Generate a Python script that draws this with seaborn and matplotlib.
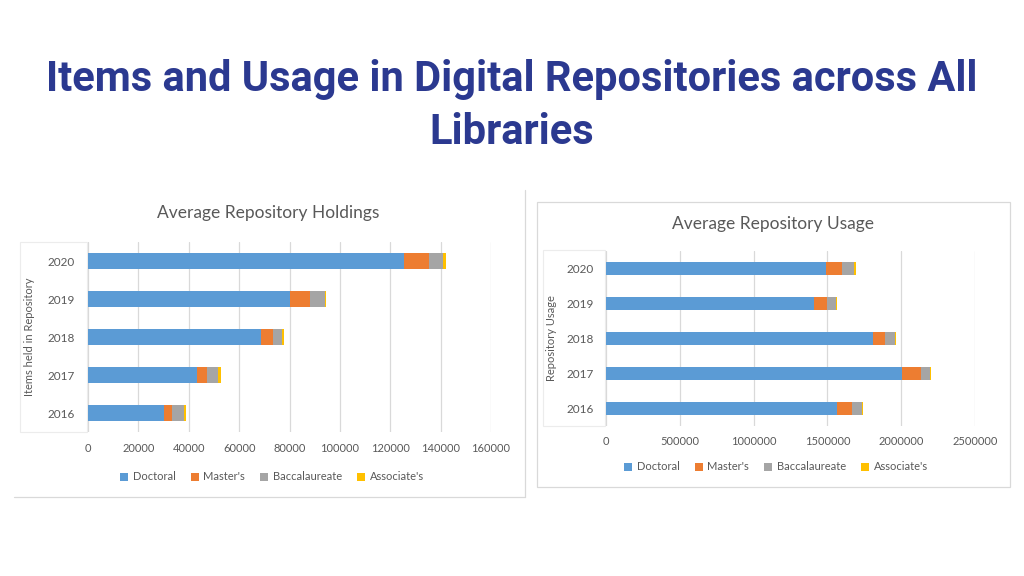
import numpy as np
import pandas as pd
import matplotlib
matplotlib.use('Agg')
import matplotlib.pyplot as plt
import seaborn as sns
from matplotlib.patches import Patch, Rectangle
from matplotlib.lines import Line2D

# --------------- DATA -----------------
years = ['2020', '2019', '2018', '2017', '2016']
levels = ["Doctoral", "Master's", "Baccalaureate", "Associate's"]
colors = ['#5B9BD5', '#ED7D31', '#A5A5A5', '#FFC000']

# average repository holdings (items)
hold_doctoral = [125500, 80200, 68600, 43300, 30300]
hold_masters = [9900, 8000, 4900, 3900, 3000]
hold_bacc = [5600, 5700, 3600, 4600, 5000]
hold_assoc = [1300, 600, 700, 1200, 500]

# average repository usage
use_doctoral = [1491000, 1410000, 1807000, 2008000, 1563000]
use_masters = [106000, 88000, 83000, 128000, 104000]
use_bacc = [86000, 59000, 66000, 59000, 68000]
use_assoc = [9000, 6000, 7000, 7000, 7000]

hold_ticks = [0, 20000, 40000, 60000, 80000, 100000, 120000, 140000, 160000]
use_ticks = [0, 500000, 1000000, 1500000, 2000000, 2500000]

GRAY = '#595959'
W, H = 1024, 576

sns.set_style('white')
plt.rcParams['font.family'] = ['Lato', 'DejaVu Sans']

fig = plt.figure(figsize=(W / 100, H / 100), dpi=100)
fig.patch.set_facecolor('white')


def px_rect(x0, y0, x1, y1):
    # pixel box (top-left origin) -> figure fraction [l, b, w, h]
    return [x0 / W, 1 - y1 / H, (x1 - x0) / W, (y1 - y0) / H]


def stacked(ax, parts, width, ticks, ylabel, pad_y, pad_x):
    cum = np.cumsum(np.array(parts), axis=0)
    for i in reversed(range(len(levels))):
        df = pd.DataFrame({'Year': years, 'Total': cum[i]})
        sns.barplot(data=df, x='Total', y='Year', order=years, orient='h',
                    color=colors[i], saturation=1, width=width, linewidth=0, ax=ax)
    ax.set_xlim(ticks[0], ticks[-1])
    ax.set_xticks(ticks)
    ax.set_xticklabels([str(t) for t in ticks])
    ax.xaxis.grid(True, color='#d9d9d9', linewidth=0.9)
    ax.yaxis.grid(False)
    ax.set_axisbelow(True)
    for s in ax.spines.values():
        s.set_visible(False)
    ax.tick_params(axis='both', length=0, colors=GRAY, labelsize=8)
    ax.tick_params(axis='y', pad=pad_y, labelsize=8.5)
    ax.tick_params(axis='x', pad=pad_x)
    ax.set_xlabel('')
    ax.set_ylabel(ylabel, color=GRAY, fontsize=8)


# panel frames
fig.add_artist(Line2D([525 / W, 525 / W], [1 - 190 / H, 1 - 497 / H], color='#d9d9d9', lw=0.9))
fig.add_artist(Line2D([14 / W, 525 / W], [1 - 497 / H, 1 - 497 / H], color='#d9d9d9', lw=0.9))
l, b, w, h = px_rect(537, 202, 1010, 487)
fig.add_artist(Rectangle((l, b), w, h, transform=fig.transFigure, fill=False,
                         edgecolor='#d9d9d9', lw=0.9))
# faint boxes behind the year labels
for box in [(20, 242, 87, 432), (543, 250, 605, 426)]:
    l, b, w, h = px_rect(*box)
    fig.add_artist(Rectangle((l, b), w, h, transform=fig.transFigure, facecolor='none',
                             edgecolor='#ececec', lw=0.8, zorder=-1))

# left: holdings
ax1 = fig.add_axes(px_rect(88, 242, 491, 432))
ax1.patch.set_alpha(0)
stacked(ax1, [hold_doctoral, hold_masters, hold_bacc, hold_assoc], 0.4,
        hold_ticks, 'Items held in Repository', 9.5, 8)
ax1.yaxis.set_label_coords(-0.132, 0.5)

# right: usage
ax2 = fig.add_axes(px_rect(606, 251, 975, 426))
ax2.patch.set_alpha(0)
stacked(ax2, [use_doctoral, use_masters, use_bacc, use_assoc], 0.39,
        use_ticks, 'Repository Usage', 8.5, 7.5)
ax2.yaxis.set_label_coords(-0.133, 0.5)

fig.text(268 / W, 1 - 213 / H, 'Average Repository Holdings', ha='center', va='center',
         color=GRAY, fontsize=12.5)
fig.text(773 / W, 1 - 224 / H, 'Average Repository Usage', ha='center', va='center',
         color=GRAY, fontsize=12.5)

handles = [Patch(facecolor=c, edgecolor='none', label=lv) for c, lv in zip(colors, levels)]
for cx, cy in [(272, 477), (776, 467)]:
    fig.legend(handles=handles, loc='center', bbox_to_anchor=(cx / W, 1 - cy / H),
               ncol=4, frameon=False, fontsize=8, labelcolor=GRAY,
               handlelength=0.7, handleheight=0.7, handletextpad=0.4, columnspacing=1.4)

# main title
title_kw = dict(ha='center', va='center', color='#2B3990', fontsize=30, fontweight='bold',
                family=['Roboto', 'DejaVu Sans'])
fig.text(0.5, 1 - 80 / H, 'Items and Usage in Digital Repositories across All', **title_kw)
fig.text(0.5, 1 - 132 / H, 'Libraries', **title_kw)

fig.savefig('out.png', dpi=100, facecolor='white')
